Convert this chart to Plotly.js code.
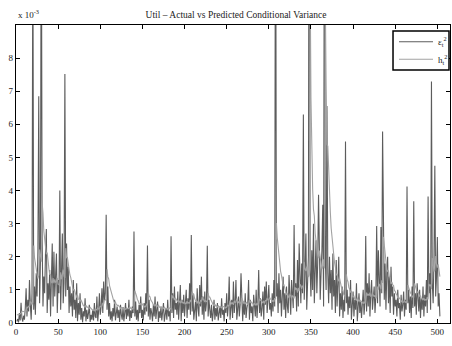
<!DOCTYPE html>
<html>
<head>
<meta charset="utf-8">
<script src="https://cdn.plot.ly/plotly-3.0.1.min.js"></script>
<style>
  html, body { margin: 0; padding: 0; background: #fff; }
  #chart { width: 452px; height: 346px; }
</style>
</head>
<body>
<div id="chart"></div>
<script>
// Squared residuals and GARCH conditional variance for Util, in units of 1e-3.
var eps2 = [
  0.05, 0.12, 0.02, 0.30, 0.08, 0.61, 0.15, 0.04, 0.22, 0.10,
  0.45, 1.05, 0.20, 0.70, 0.35, 1.30, 0.55, 0.10, 0.90, 12.0,
  0.40, 1.10, 0.25, 1.50, 0.80, 2.20, 6.85, 0.60, 1.90, 14.0,
  2.60, 0.50, 1.40, 0.90, 2.10, 2.84, 0.30, 1.20, 0.70, 1.60,
  0.20, 1.10, 2.40, 0.50, 2.15, 0.80, 1.60, 2.10, 0.30, 1.30,
  0.90, 4.00, 0.40, 2.45, 2.70, 0.60, 1.20, 7.52, 0.80, 2.40,
  1.00, 1.70, 0.30, 1.10, 0.50, 0.90, 0.20, 1.30, 0.40, 0.70,
  0.15, 1.20, 0.05, 0.60, 0.25, 0.90, 0.10, 0.45, 0.02, 0.35,
  0.20, 0.75, 0.05, 0.40, 0.12, 0.30, 0.55, 0.03, 0.25, 0.10,
  0.40, 0.08, 0.60, 0.20, 0.15, 0.80, 0.05, 0.35, 0.90, 0.25,
  0.50, 1.05, 0.30, 1.25, 0.70, 0.90, 3.27, 0.40, 1.10, 0.20,
  0.60, 0.10, 0.35, 0.05, 0.45, 0.20, 0.70, 0.08, 0.30, 0.50,
  0.15, 0.40, 0.03, 0.55, 0.25, 0.10, 0.48, 0.05, 0.30, 0.60,
  0.12, 0.45, 0.20, 0.70, 0.06, 0.38, 0.15, 0.50, 0.30, 2.76,
  0.20, 0.65, 0.10, 0.40, 0.05, 0.55, 0.30, 0.80, 0.15, 0.40,
  0.08, 0.60, 0.25, 0.90, 0.35, 2.34, 0.20, 0.70, 0.10, 0.45,
  0.30, 0.05, 0.55, 0.20, 0.80, 0.12, 0.40, 0.65, 0.03, 0.35,
  0.15, 0.50, 0.08, 0.30, 0.60, 0.04, 0.25, 0.45, 0.10, 0.70,
  0.20, 0.35, 0.05, 2.62, 0.30, 0.90, 0.15, 1.10, 0.40, 0.60,
  0.25, 0.95, 0.10, 0.50, 1.15, 0.05, 0.70, 0.30, 0.85, 0.20,
  0.60, 1.00, 0.15, 0.75, 0.40, 1.20, 0.25, 2.66, 0.35, 0.90,
  0.10, 0.30, 0.65, 0.05, 1.05, 0.45, 0.20, 1.15, 0.50, 1.40,
  0.25, 0.80, 0.10, 0.95, 0.35, 0.60, 2.33, 0.20, 0.70, 0.40,
  0.15, 0.55, 0.05, 0.30, 0.70, 0.10, 0.45, 0.20, 0.60, 0.08,
  0.35, 0.50, 0.15, 0.75, 0.25, 0.40, 0.05, 0.60, 0.30, 0.90,
  0.20, 0.55, 1.40, 0.10, 0.45, 0.70, 0.15, 1.25, 0.30, 0.60,
  1.30, 0.10, 0.40, 0.80, 0.20, 0.55, 1.50, 0.35, 0.05, 0.65,
  0.25, 0.90, 0.15, 0.45, 0.60, 1.30, 0.10, 0.70, 0.30, 0.50,
  0.05, 0.85, 0.40, 0.20, 1.00, 0.15, 0.60, 1.60, 0.30, 0.75,
  0.20, 0.45, 0.95, 0.10, 1.10, 0.55, 1.25, 0.30, 0.70, 1.15,
  0.40, 0.60, 0.20, 0.90, 0.35, 1.30, 0.50, 16.0, 0.80, 1.20,
  0.30, 1.50, 0.60, 1.00, 0.20, 0.75, 1.40, 0.40, 0.90, 0.15,
  1.10, 0.50, 0.30, 1.45, 0.70, 0.25, 1.30, 0.60, 0.45, 2.96,
  0.80, 1.20, 0.35, 1.90, 0.50, 2.40, 1.00, 0.60, 1.80, 0.90,
  6.30, 0.70, 1.50, 2.70, 0.40, 1.20, 2.00, 20.0, 1.60, 0.80,
  2.20, 1.00, 3.00, 0.60, 1.40, 2.50, 0.90, 1.80, 3.87, 1.20,
  0.70, 1.50, 2.20, 3.57, 0.50, 15.0, 2.00, 1.00, 6.55, 1.50,
  0.60, 2.00, 0.90, 1.60, 0.40, 2.10, 0.80, 1.30, 0.30, 1.90,
  0.50, 1.20, 2.00, 0.20, 0.90, 0.40, 1.10, 0.15, 0.70, 0.35,
  5.48, 0.60, 1.00, 0.25, 0.80, 0.45, 1.30, 0.10, 0.60, 0.95,
  0.20, 0.70, 0.40, 1.20, 0.05, 0.55, 0.90, 0.30, 0.65, 0.15,
  0.45, 1.00, 0.25, 0.60, 2.63, 0.35, 1.20, 0.50, 1.50, 0.20,
  0.90, 1.30, 0.40, 0.70, 1.10, 0.30, 0.80, 2.93, 0.60, 2.20,
  1.00, 0.50, 2.90, 0.90, 5.78, 1.20, 0.70, 1.80, 0.40, 1.50,
  2.00, 0.60, 1.40, 0.30, 1.70, 0.80, 1.10, 0.25, 0.90, 0.50,
  0.70, 0.20, 1.00, 0.45, 0.60, 0.10, 0.85, 0.35, 0.55, 0.95,
  0.20, 0.70, 0.40, 4.12, 0.60, 1.00, 0.30, 0.80, 0.15, 1.10,
  0.45, 3.68, 0.50, 0.90, 0.25, 1.20, 0.60, 0.35, 1.00, 0.15,
  0.75, 0.40, 1.10, 0.20, 0.85, 0.50, 1.30, 0.30, 3.82, 0.90,
  1.50, 0.40, 7.29, 1.20, 0.60, 2.00, 4.75, 0.80, 1.40, 2.60,
  0.50, 0.90, 0.20
];

var h2 = [
  0.25, 0.25, 0.26, 0.25, 0.29, 0.28, 0.36, 0.35, 0.33, 0.34,
  0.33, 0.37, 0.49, 0.46, 0.51, 0.50, 0.64, 0.63, 0.56, 0.62,
  2.34, 1.97, 1.78, 1.50, 1.47, 1.34, 1.44, 2.22, 1.91, 1.85,
  3.62, 3.33, 2.78, 2.47, 2.15, 2.08, 2.13, 1.79, 1.65, 1.47,
  1.46, 1.24, 1.20, 1.36, 1.20, 1.32, 1.22, 1.26, 1.36, 1.17,
  1.17, 1.11, 1.53, 1.32, 1.46, 1.61, 1.42, 1.36, 2.26, 1.97,
  1.98, 1.77, 1.71, 1.45, 1.37, 1.21, 1.14, 0.98, 1.02, 0.92,
  0.88, 0.77, 0.84, 0.72, 0.71, 0.65, 0.70, 0.62, 0.60, 0.52,
  0.51, 0.48, 0.54, 0.48, 0.48, 0.44, 0.44, 0.47, 0.42, 0.41,
  0.38, 0.40, 0.37, 0.43, 0.41, 0.39, 0.47, 0.42, 0.43, 0.52,
  0.49, 0.51, 0.61, 0.57, 0.68, 0.69, 0.73, 1.62, 1.40, 1.33,
  1.13, 1.03, 0.88, 0.80, 0.69, 0.66, 0.60, 0.63, 0.56, 0.53,
  0.54, 0.49, 0.49, 0.44, 0.47, 0.45, 0.42, 0.45, 0.41, 0.41,
  0.46, 0.43, 0.45, 0.43, 0.49, 0.44, 0.45, 0.42, 0.45, 0.45,
  0.98, 0.85, 0.82, 0.71, 0.67, 0.58, 0.59, 0.56, 0.61, 0.55,
  0.54, 0.48, 0.51, 0.49, 0.57, 0.55, 0.92, 0.81, 0.79, 0.69,
  0.66, 0.61, 0.54, 0.55, 0.51, 0.57, 0.51, 0.51, 0.55, 0.48,
  0.48, 0.45, 0.48, 0.44, 0.44, 0.48, 0.43, 0.42, 0.44, 0.41,
  0.47, 0.45, 0.45, 0.41, 0.85, 0.77, 0.79, 0.69, 0.76, 0.71,
  0.70, 0.64, 0.69, 0.61, 0.60, 0.69, 0.60, 0.63, 0.59, 0.64,
  0.58, 0.59, 0.66, 0.59, 0.62, 0.60, 0.70, 0.64, 0.95, 0.85,
  0.86, 0.74, 0.68, 0.68, 0.59, 0.67, 0.64, 0.58, 0.68, 0.66,
  0.78, 0.70, 0.72, 0.63, 0.69, 0.64, 0.64, 0.90, 0.79, 0.78,
  0.72, 0.64, 0.63, 0.55, 0.53, 0.57, 0.51, 0.52, 0.49, 0.52,
  0.47, 0.47, 0.49, 0.45, 0.51, 0.49, 0.49, 0.44, 0.48, 0.47,
  0.55, 0.51, 0.53, 0.67, 0.59, 0.58, 0.61, 0.55, 0.67, 0.62,
  0.63, 0.74, 0.65, 0.62, 0.66, 0.60, 0.60, 0.75, 0.69, 0.60,
  0.62, 0.57, 0.63, 0.57, 0.56, 0.58, 0.70, 0.62, 0.64, 0.60,
  0.60, 0.53, 0.59, 0.57, 0.53, 0.61, 0.55, 0.57, 0.74, 0.68,
  0.70, 0.63, 0.61, 0.67, 0.59, 0.68, 0.67, 0.76, 0.69, 0.70,
  0.77, 0.72, 0.71, 0.64, 0.69, 0.64, 0.75, 0.72, 3.02, 2.58,
  2.28, 1.91, 1.79, 1.56, 1.44, 1.22, 1.13, 1.15, 1.02, 0.99,
  0.85, 0.89, 0.83, 0.75, 0.86, 0.83, 0.74, 0.83, 0.79, 0.74,
  1.08, 1.02, 1.04, 0.92, 1.06, 0.96, 1.17, 1.13, 1.03, 1.13,
  1.08, 1.85, 1.63, 1.57, 1.70, 1.46, 1.39, 1.45, 10.5, 6.80,
  4.60, 4.05, 3.43, 3.23, 2.71, 2.42, 2.35, 2.06, 1.96, 2.19,
  1.97, 1.72, 1.64, 1.68, 1.92, 1.65, 9.80, 7.20, 5.40, 5.34,
  4.54, 3.76, 3.35, 2.86, 2.57, 2.16, 2.08, 1.82, 1.69, 1.44,
  1.48, 1.30, 1.26, 1.35, 1.15, 1.10, 0.98, 0.99, 0.85, 0.83,
  0.76, 1.47, 1.31, 1.24, 1.07, 1.02, 0.92, 0.97, 0.83, 0.79,
  0.81, 0.72, 0.72, 0.68, 0.76, 0.66, 0.65, 0.70, 0.65, 0.66,
  0.59, 0.58, 0.65, 0.60, 0.61, 0.92, 0.83, 0.88, 0.82, 0.92,
  0.81, 0.82, 0.89, 0.81, 0.79, 0.84, 0.76, 0.77, 1.10, 1.01,
  1.18, 1.13, 1.02, 1.29, 1.21, 2.60, 2.30, 1.99, 1.90, 1.62,
  1.56, 1.59, 1.40, 1.37, 1.18, 1.24, 1.15, 1.13, 0.98, 0.96,
  0.88, 0.85, 0.75, 0.79, 0.74, 0.72, 0.63, 0.67, 0.63, 0.63,
  0.69, 0.62, 0.64, 0.61, 1.15, 1.05, 1.03, 0.91, 0.89, 0.77,
  0.82, 0.76, 1.20, 1.08, 1.04, 0.91, 0.95, 0.89, 0.80, 0.83,
  0.73, 0.74, 0.69, 0.76, 0.68, 0.71, 0.68, 0.78, 0.71, 1.18,
  1.12, 1.16, 1.03, 1.96, 1.79, 1.56, 1.59, 2.02, 1.78, 1.67,
  1.77, 1.53, 1.40
];

var seriesNames = ['\u03b5<sub>t</sub><sup>2</sup>', 'h<sub>t</sub><sup>2</sup>'];
var seriesColors = ['#5c5c5c', '#a2a2a2'];
var chartTitle = 'Util \u2013 Actual vs Predicted Conditional Variance';
var yTicks = [0, 1, 2, 3, 4, 5, 6, 7, 8];
var xTicks = [0, 50, 100, 150, 200, 250, 300, 350, 400, 450, 500];

var t = eps2.map(function (_, i) { return i + 1; });

var serif = 'Liberation Serif, Times New Roman, serif';
var ink = '#222';

var traces = [
  { x: t, y: eps2, type: 'scatter', mode: 'lines', name: seriesNames[0],
    line: { color: seriesColors[0], width: 1.1 } },
  { x: t, y: h2, type: 'scatter', mode: 'lines', name: seriesNames[1],
    line: { color: seriesColors[1], width: 1.1 } }
];

var axisCommon = {
  showgrid: false, zeroline: false,
  showline: true, linecolor: '#000', linewidth: 1.2,
  mirror: 'ticks', ticks: 'inside', ticklen: 4, tickwidth: 1, tickcolor: '#000',
  tickfont: { family: serif, size: 9, color: ink }
};

// Boxed key in the upper-right corner (paper coordinates of the plot area).
var key = { x0: 0.8687, x1: 0.9977, y0: 0.849, y1: 0.980,
            lineX0: 0.8825, lineX1: 0.9608, labelX: 0.9677, rows: [0.944, 0.885] };

var shapes = [
  { type: 'rect', xref: 'paper', yref: 'paper', x0: key.x0, x1: key.x1, y0: key.y0, y1: key.y1,
    fillcolor: '#fff', line: { color: '#000', width: 1.5 }, layer: 'above' }
];
var annotations = [
  { text: 'x 10<sup>-3</sup>', xref: 'paper', yref: 'paper', x: 0, y: 1,
    xanchor: 'left', yanchor: 'bottom', yshift: 3, showarrow: false,
    font: { family: serif, size: 9, color: ink } }
];
seriesNames.forEach(function (name, i) {
  shapes.push({ type: 'line', xref: 'paper', yref: 'paper',
    x0: key.lineX0, x1: key.lineX1, y0: key.rows[i], y1: key.rows[i],
    line: { color: seriesColors[i], width: 1.1 }, layer: 'above' });
  annotations.push({ text: name, xref: 'paper', yref: 'paper',
    x: key.labelX, y: key.rows[i], xanchor: 'left', yanchor: 'middle',
    showarrow: false, font: { family: serif, size: 9, color: ink } });
});

var layout = {
  width: 452, height: 346,
  margin: { l: 16, r: 2, t: 25, b: 23 },
  paper_bgcolor: '#fff', plot_bgcolor: '#fff',
  title: { text: chartTitle, font: { family: serif, size: 9.5, color: ink },
           x: 0.507, xref: 'paper', y: 0.958, yref: 'container', yanchor: 'middle' },
  xaxis: Object.assign({}, axisCommon, { range: [0, 515], tickvals: xTicks }),
  yaxis: Object.assign({}, axisCommon, { range: [0, 9], tickvals: yTicks }),
  showlegend: false,
  shapes: shapes,
  annotations: annotations
};

Plotly.newPlot('chart', traces, layout, { displayModeBar: false, staticPlot: true });
</script>
</body>
</html>
